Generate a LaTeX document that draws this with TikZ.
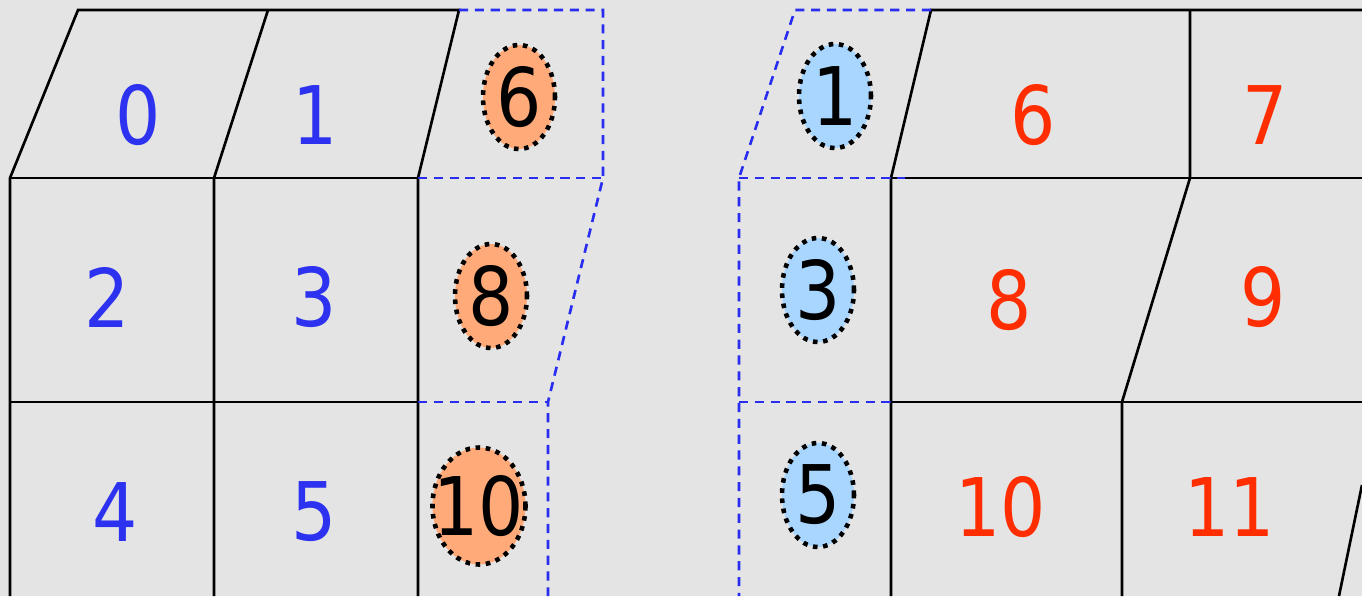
\documentclass[tikz,border=0pt]{standalone}
\usepackage{fontspec}
\setmainfont{DejaVu Sans}[FakeStretch=0.88]
\usetikzlibrary{shapes.geometric}

\definecolor{bgGray}{RGB}{228,228,228}
\definecolor{cellBlue}{RGB}{45,50,240}
\definecolor{cellRed}{RGB}{255,45,0}
\definecolor{haloOrange}{RGB}{255,170,120}
\definecolor{haloBlue}{RGB}{168,214,255}
\definecolor{ghostBlue}{RGB}{40,45,240}

\newlength{\pxu}\setlength{\pxu}{0.01cm}
\newcommand{\haloText}[1]{\makebox[0pt]{#1}}

\tikzset{
  grid/.style={black, line width=0.75pt},
  ghost/.style={ghostBlue, line width=0.75pt, dash pattern=on 2.6pt off 1.9pt},
  lbl/.style={font=\fontsize{23}{23}\selectfont, inner sep=0pt},
  halo/.style={ellipse, draw=black, line width=1.3pt, dash pattern=on 1.3pt off 1.6pt,
    inner sep=0pt, minimum width=72\pxu, minimum height=104\pxu, lbl}
}

\begin{document}
\begin{tikzpicture}[x=0.01cm, y=-0.01cm]
  \fill[bgGray] (0,0) rectangle (1362,596);
  \useasboundingbox (0,0) rectangle (1362,596);

  % Linke Haelfte: eigene Zellen
  \draw[grid] (10,596) -- (10,178) -- (78,10) -- (459,10) -- (418,178) -- (418,596);
  \draw[grid] (214,596) -- (214,178) -- (268,10);
  \draw[grid] (10,178) -- (418,178);
  \draw[grid] (10,402) -- (418,402);
  % Linke Haelfte: Geisterzellen
  \draw[ghost] (459,10) -- (603,10) -- (603,178) -- (548,402) -- (548,596);
  \draw[ghost] (418,178) -- (603,178);
  \draw[ghost] (418,402) -- (548,402);

  \node[lbl, text=cellBlue] (l0) at (138,115) {0};
  \node[lbl, text=cellBlue] (l1) at (315,115) {1};
  \node[lbl, text=cellBlue] (l2) at (107,297) {2};
  \node[lbl, text=cellBlue] (l3) at (314,297) {3};
  \node[lbl, text=cellBlue] (l4) at (115,512) {4};
  \node[lbl, text=cellBlue] (l5) at (314,512) {5};

  \node[halo, fill=haloOrange] (g6) at (519,97) {\haloText{6}};
  \node[halo, fill=haloOrange] (g8) at (491,296) {\haloText{8}};
  \node[halo, fill=haloOrange, minimum width=93\pxu, minimum height=117\pxu] (g10) at (479,506) {\haloText{10}};

  % Rechte Haelfte: eigene Zellen
  \draw[grid] (1362,10) -- (931,10) -- (891,178) -- (891,596);
  \draw[grid] (891,178) -- (1362,178);
  \draw[grid] (891,402) -- (1362,402);
  \draw[grid] (1190,10) -- (1190,178) -- (1122,402) -- (1122,596);
  \draw[grid] (1362,485) -- (1339,596);
  % Rechte Haelfte: Geisterzellen
  \draw[ghost] (931,10) -- (795,10) -- (739,178) -- (739,596);
  \draw[ghost] (739,178) -- (905,178);
  \draw[ghost] (739,402) -- (891,402);

  \node[lbl, text=cellRed] (r6) at (1033,115) {6};
  \node[lbl, text=cellRed] (r7) at (1265,115) {7};
  \node[lbl, text=cellRed] (r8) at (1009,300) {8};
  \node[lbl, text=cellRed] (r9) at (1263,297) {9};
  \node[lbl, text=cellRed] (r10) at (1001,507) {10};
  \node[lbl, text=cellRed] (r11) at (1230,507) {11};

  \node[halo, fill=haloBlue] (g1) at (835,96) {\haloText{1}};
  \node[halo, fill=haloBlue] (g3) at (818,290) {\haloText{3}};
  \node[halo, fill=haloBlue] (g5) at (818,495) {\haloText{5}};
\end{tikzpicture}
\end{document}
